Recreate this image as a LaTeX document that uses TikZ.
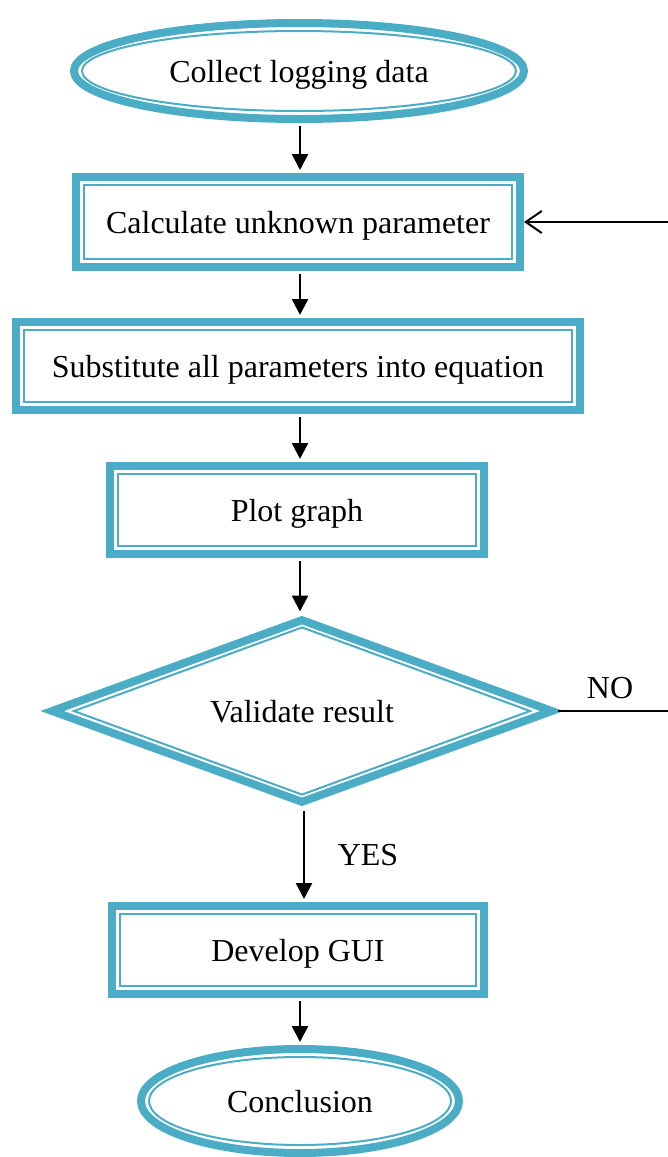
\documentclass[tikz,border=0pt]{standalone}
\usepackage{fontspec}
\setmainfont{Liberation Serif}
\usepackage{xcolor}
\usetikzlibrary{shapes.geometric,arrows.meta,positioning}
\definecolor{flowteal}{RGB}{75,172,198}

\begin{document}
\begin{tikzpicture}[x=0.5pt, y=-0.5pt,
    rimthick/.style={draw=flowteal, line width=4pt, inner sep=0pt},
    rimthin/.style={draw=flowteal, line width=1pt, inner sep=0pt, text height=12pt, text depth=1pt, font=\fontsize{16}{19}\selectfont},
    flow/.style={-{Triangle[width=8pt,length=8pt]}, line width=1.2pt, shorten <=1.5pt, shorten >=1.5pt},
    loopback/.style={-{Straight Barb[width=11pt,length=8pt,line width=1pt]}, line width=1pt},
    lbl/.style={font=\fontsize{16}{19}\selectfont}
]

\clip (0,0) rectangle (668,1157);

% Start
\node[rimthick, ellipse, minimum width=225pt, minimum height=48pt] (collect) at (299,71) {};
\node[rimthin, ellipse, minimum width=217pt, minimum height=40pt] (collecttxt) at (collect) {Collect logging data};

% Process boxes
\node[rimthick, rectangle, minimum width=222pt, minimum height=45pt] (calc) at (298,222) {};
\node[rimthin, rectangle, minimum width=214pt, minimum height=37pt] (calctxt) at (calc) {Calculate unknown parameter};

\node[rimthick, rectangle, minimum width=282pt, minimum height=44pt] (subst) at (298,366) {};
\node[rimthin, rectangle, minimum width=274pt, minimum height=36pt] (substtxt) at (subst) {Substitute all parameters into equation};

\node[rimthick, rectangle, minimum width=187pt, minimum height=44pt] (plot) at (297,510) {};
\node[rimthin, rectangle, minimum width=179pt, minimum height=36pt] (plottxt) at (plot) {Plot graph};

% Decision
\node[rimthick, diamond, aspect=2.65, minimum width=251.5pt, minimum height=92.5pt] (valid) at (302,711) {};
\node[rimthin, diamond, aspect=2.65, minimum width=228.5pt, minimum height=84pt] (validtxt) at (valid) {Validate result};

\node[rimthick, rectangle, minimum width=186pt, minimum height=44pt] (gui) at (298,950) {};
\node[rimthin, rectangle, minimum width=178pt, minimum height=36pt] (guitxt) at (gui) {Develop GUI};

% End
\node[rimthick, ellipse, minimum width=159pt, minimum height=52pt] (concl) at (300,1101) {};
\node[rimthin, ellipse, minimum width=151pt, minimum height=44pt] (concltxt) at (concl) {Conclusion};

% Labels
\node[lbl] (yes) at (368,855) {YES};
\node[lbl] (no) at (610,688) {NO};

% Arrows
\draw[flow] ([xshift=0.5pt]collect.south) -- ([xshift=0.5pt]collect.south |- calc.north);
\draw[flow] ([xshift=1pt]calc.south) -- ([xshift=1pt]calc.south |- subst.north);
\draw[flow] ([xshift=1pt]subst.south) -- ([xshift=1pt]subst.south |- plot.north);
\draw[flow] ([xshift=1.5pt]plot.south) -- ([xshift=1.5pt]plot.south |- valid.north);
\draw[flow] ([xshift=1pt]valid.south) -- ([xshift=1pt]valid.south |- gui.north);
\draw[flow] ([xshift=1pt]gui.south) -- ([xshift=1pt]gui.south |- concl.north);

% Loop back (runs off the right edge)
\coordinate (rgt) at (720,711);
\draw[loopback] (valid.east) -- (rgt) -- (rgt |- calc.east) -- (calc.east);

\end{tikzpicture}
\end{document}
